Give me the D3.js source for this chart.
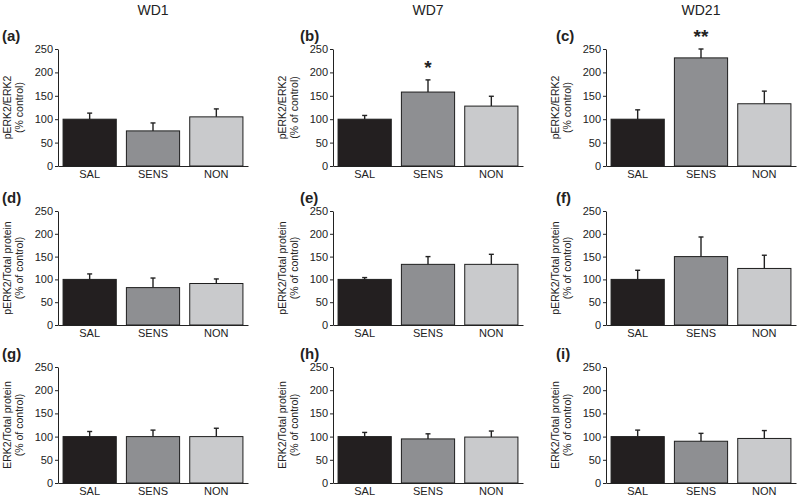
<!DOCTYPE html>
<html>
<head>
<meta charset="utf-8">
<script src="https://cdn.jsdelivr.net/npm/d3@7"></script>
<style>
  body { margin: 0; background: #fff; }
  svg { font-family: Arial, "Liberation Sans", Helvetica, sans-serif; }
</style>
</head>
<body>
<svg id="chart" width="800" height="498"></svg>
<script>
const groups = ['SAL', 'SENS', 'NON'];
const periods = ['WD1', 'WD7', 'WD21'];
const yTicks = [0, 50, 100, 150, 200, 250];
const letters = [['a', 'b', 'c'], ['d', 'e', 'f'], ['g', 'h', 'i']];

const yTitleTop = ['pERK2/ERK2', 'pERK2/Total protein', 'ERK2/Total protein'];
const yTitleBottom = [
	['(% control)', '(% of control)', '(% control)'],
	['(% of control)', '(% of control)', '(% of control)'],
	['(% of control)', '(% of control)', '(% of control)']
];

// means and SEM, one inner array per withdrawal day (SAL, SENS, NON)
const pErkErkMean = [[100, 75, 105], [100, 158, 128], [100, 231, 133]];
const pErkErkSem = [[13, 17, 17], [8, 26, 21], [20, 19, 27]];
const pErkTotMean = [[100, 82, 91], [100, 133, 133], [100, 150, 124]];
const pErkTotSem = [[12, 21, 10], [4, 17, 22], [20, 43, 29]];
const erkTotMean = [[100, 100, 100], [100, 95, 99], [100, 90, 96]];
const erkTotSem = [[11, 14, 18], [9, 11, 13], [14, 17, 17]];

const pErkErkSig = [['', '', ''], ['', '*', ''], ['', '**', '']];
const noSig = [['', '', ''], ['', '', ''], ['', '', '']];

const colors = ['#231f20', '#8e8f92', '#c9cacc'];

// layout
const colX = [58, 333, 606];
const rowTop = [49, 211, 367];
const rowBottom = [166, 325, 483];
const plotW = 190;
const letterX = [2, 300, 556];

const rows = [
	{mean: pErkErkMean, sem: pErkErkSem, sig: pErkErkSig},
	{mean: pErkTotMean, sem: pErkTotSem, sig: noSig},
	{mean: erkTotMean, sem: erkTotSem, sig: noSig}
];

const svg = d3.select('#chart');

// column titles
periods.forEach((p, c) => {
	svg.append('text')
	.attr('x', colX[c] + plotW / 2)
	.attr('y', 15)
	.attr('text-anchor', 'middle')
	.attr('font-size', 14)
	.attr('fill', '#222')
	.text(p)
})

rows.forEach((row, r) => {
	periods.forEach((p, c) => {

		let g = svg.append('g')

		let x = d3.scaleBand()
		.domain(groups)
		.range([colX[c], colX[c] + plotW])
		.paddingInner(0.16)
		.paddingOuter(0.08)

		let y = d3.scaleLinear()
		.domain([0, 250])
		.range([rowBottom[r], rowTop[r]])

		let data = groups.map((k, i) => ({
			group: k,
			mean: row.mean[c][i],
			sem: row.sem[c][i],
			sig: row.sig[c][i],
			color: colors[i]
		}))

		// error bars (upper only)
		let err = g.selectAll('.err')
		.data(data)
		.enter()
		.append('g')
		.attr('class', 'err')
		.attr('stroke', '#222')
		.attr('stroke-width', 1.4)

		err.append('line')
		.attr('x1', d => x(d.group) + x.bandwidth() / 2)
		.attr('x2', d => x(d.group) + x.bandwidth() / 2)
		.attr('y1', d => y(d.mean))
		.attr('y2', d => y(d.mean + d.sem))

		err.append('line')
		.attr('x1', d => x(d.group) + x.bandwidth() / 2 - 2.5)
		.attr('x2', d => x(d.group) + x.bandwidth() / 2 + 2.5)
		.attr('y1', d => y(d.mean + d.sem))
		.attr('y2', d => y(d.mean + d.sem))

		g.selectAll('.bar')
		.data(data)
		.enter()
		.append('rect')
		.attr('class', 'bar')
		.attr('x', d => x(d.group))
		.attr('y', d => y(d.mean))
		.attr('width', x.bandwidth())
		.attr('height', d => y(0) - y(d.mean))
		.attr('fill', d => d.color)
		.attr('stroke', '#1e1e1e')
		.attr('stroke-width', 1)

		g.selectAll('.sig')
		.data(data.filter(d => d.sig))
		.enter()
		.append('text')
		.attr('x', d => x(d.group) + x.bandwidth() / 2)
		.attr('y', d => y(d.mean + d.sem) - 6)
		.attr('text-anchor', 'middle')
		.attr('font-size', 19)
		.attr('font-weight', 'bold')
		.attr('fill', '#222')
		.text(d => d.sig)

		// axes
		let yAxis = g.append('g')
		.attr('transform', `translate(${colX[c]},0)`)
		.call(d3.axisLeft(y).tickValues(yTicks).tickSize(3).tickPadding(2).tickSizeOuter(0))

		let xAxis = g.append('g')
		.attr('transform', `translate(0,${rowBottom[r]})`)
		.call(d3.axisBottom(x).tickSize(0).tickPadding(4).tickSizeOuter(0))

		;[yAxis, xAxis].forEach(a => {
			a.attr('font-family', null).attr('font-size', 11)
			a.selectAll('path, line').attr('stroke', '#222')
			a.selectAll('text').attr('fill', '#222')
		})

		// y title
		let cy = (rowTop[r] + rowBottom[r]) / 2
		let title = g.append('text')
		.attr('transform', `translate(${colX[c]},${cy}) rotate(-90)`)
		.attr('text-anchor', 'middle')
		.attr('font-size', 10.5)
		.attr('fill', '#222')

		title.append('tspan')
		.attr('x', 0)
		.attr('y', -51)
		.attr('dy', '0.35em')
		.text(yTitleTop[r])

		title.append('tspan')
		.attr('x', 0)
		.attr('y', -39)
		.attr('dy', '0.35em')
		.text(yTitleBottom[r][c])

		// panel letter
		g.append('text')
		.attr('x', letterX[c])
		.attr('y', rowTop[r] - 8)
		.attr('font-size', 15)
		.attr('font-weight', 'bold')
		.attr('fill', '#222')
		.text(`(${letters[r][c]})`)
	})
})
</script>
</body>
</html>
